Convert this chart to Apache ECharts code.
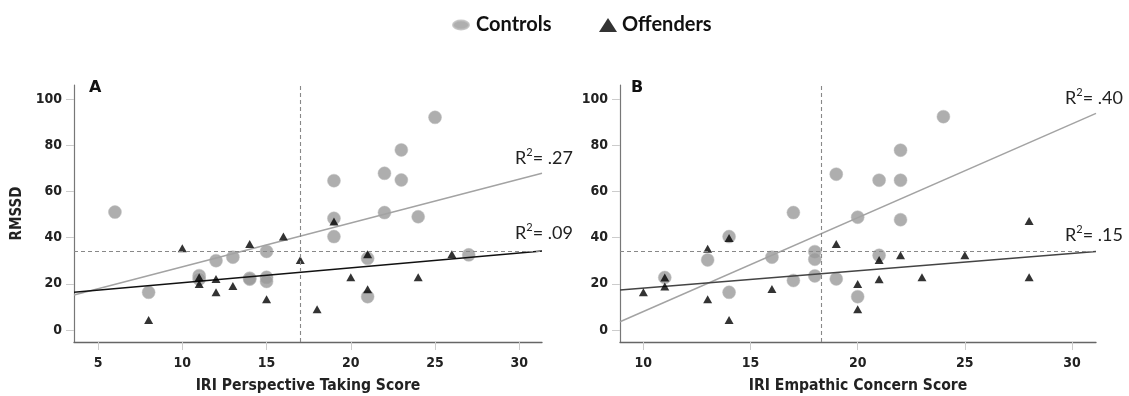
<!DOCTYPE html>
<html><head><meta charset="utf-8">
<script src="https://cdn.jsdelivr.net/npm/echarts@6/dist/echarts.min.js"></script>
<style>html,body{margin:0;padding:0;background:#fff}#c{width:1129px;height:396px}</style>
</head><body><div id="c"></div>
<script>
// Panel A: IRI Perspective Taking vs RMSSD
const controlsA = [[6,51],[8,16.3],[11,23.5],[11,22],[12,30],[13,31.5],[14,22.4],[14,22],[15,34],[15,22.8],[15,21],[19,64.6],[19,48.3],[19,40.4],[21,31],[21,14.4],[22,67.8],[22,50.8],[23,77.9],[23,64.9],[24,49],[25,92],[27,32.5]];
const offendersA = [[8,4.3],[10,35.4],[11,22.8],[11,19.9],[12,22.1],[12,16.3],[13,19],[14,37.2],[15,13.3],[16,40.4],[17,30.3],[18,9],[19,46.9],[20,22.8],[21,32.8],[21,17.6],[24,22.8],[26,32.8]];
// Panel B: IRI Empathic Concern vs RMSSD
const controlsB = [[11,22.7],[13,30.3],[14,40.4],[14,16.3],[16,31.5],[17,50.8],[17,21.4],[18,33.9],[18,30.6],[18,23.4],[19,67.4],[19,22.1],[20,48.8],[20,14.4],[21,64.8],[21,32.3],[22,77.8],[22,64.8],[22,47.7],[24,92.3]];
const offendersB = [[10,16.3],[11,22.7],[11,18.8],[13,35.1],[13,13.3],[14,39.8],[14,4.3],[16,17.7],[19,37.2],[20,19.9],[20,9],[21,30.3],[21,21.9],[22,32.3],[23,22.8],[25,32.3],[28,47.2],[28,22.8]];
// Fit lines [intercept, slope]
const fitControlsA = [8.4, 1.895];
const fitOffendersA = [14.0, 0.644];
const fitControlsB = [-32.6, 4.06];
const fitOffendersB = [10.6, 0.75];
const r2Labels = ['.27', '.09', '.40', '.15'];
// Reference (dashed) lines
const refY = [33.9, 33.9];
const refX = [17, 18.3];
// Axes
const xRangeA = [3.57, 31.35];
const xRangeB = [8.91, 31.12];
const yRange = [-5.2, 106];
const xTicksA = [5, 10, 15, 20, 25, 30];
const xTicksB = [10, 15, 20, 25, 30];
const yTicks = [0, 20, 40, 60, 80, 100];
const xNames = ['IRI Perspective Taking Score', 'IRI Empathic Concern Score'];
const yName = 'RMSSD';

const tickFont = "'DejaVu Sans Condensed', 'DejaVu Sans', sans-serif";
function fit(coef, range) {
  return range.map(x => [x, coef[0] + coef[1] * x]);
}
function xAxis(idx, range, ticks, name) {
  return {
    type: 'value', gridIndex: idx, min: range[0], max: range[1],
    axisLine: {show: true, onZero: false, lineStyle: {color: '#666', width: 1.3}},
    axisTick: {show: true, length: 8, lineStyle: {color: '#ccc', width: 1}, customValues: ticks},
    axisLabel: {customValues: ticks, margin: 14, fontFamily: tickFont, fontWeight: 'bold', fontSize: 14, color: '#222'},
    splitLine: {show: false},
    name: name, nameLocation: 'middle', nameGap: 36,
    nameTextStyle: {fontFamily: tickFont, fontWeight: 'bold', fontSize: 15.6, color: '#222'}
  };
}
function yAxis(idx, name) {
  return {
    type: 'value', gridIndex: idx, min: yRange[0], max: yRange[1],
    axisLine: {show: true, onZero: false, lineStyle: {color: '#777', width: 1.2}},
    axisTick: {show: true, length: 8, lineStyle: {color: '#ccc', width: 1}, customValues: yTicks},
    axisLabel: {customValues: yTicks, margin: 12, fontFamily: tickFont, fontWeight: 'bold', fontSize: 14, color: '#222'},
    splitLine: {show: false},
    name: name || '', nameLocation: 'middle', nameGap: 49, nameRotate: 90,
    nameTextStyle: {fontFamily: tickFont, fontWeight: 'bold', fontSize: 15, color: '#222'}
  };
}
const circleStyle = {color: '#9a9a9a', borderColor: '#bdbdbd', borderWidth: 0.6};
function circles(idx, data) {
  return {name: 'Controls', type: 'scatter', xAxisIndex: idx, yAxisIndex: idx, data: data,
    symbol: 'circle', symbolSize: 13, itemStyle: circleStyle, z: 2,
    markLine: {silent: true, symbol: 'none', label: {show: false},
      lineStyle: {color: '#888', type: [4, 3], width: 1.1},
      data: [{yAxis: refY[idx]}, {xAxis: refX[idx]}]}};
}
function triangles(idx, data) {
  return {name: 'Offenders', type: 'scatter', xAxisIndex: idx, yAxisIndex: idx, data: data,
    symbol: 'triangle', symbolSize: [9, 8], itemStyle: {color: '#000'}, z: 4};
}
function line(idx, data, color) {
  return {type: 'line', xAxisIndex: idx, yAxisIndex: idx, data: data, symbol: 'none', silent: true,
    lineStyle: {color: color, width: 1.5}, z: 3};
}
function r2(x, y, v) {
  return {type: 'text', x: x, y: y, silent: true, style: {
    text: '{r|R}{s|2}{r|= ' + v + '}', verticalAlign: 'middle',
    rich: {r: {fontFamily: 'Lato', fontSize: 18, fill: '#222', lineHeight: 22},
           s: {fontFamily: 'Lato', fontSize: 11, fill: '#222', verticalAlign: 'top', lineHeight: 22}}}};
}
const ellipse = 'path://M0,4.5A8,4.5 0 1 1 16,4.5A8,4.5 0 1 1 0,4.5Z';
const chart = echarts.init(document.getElementById('c'));
chart.setOption({
  animation: false,
  backgroundColor: '#fff',
  legend: [
    {data: [{name: 'Controls', icon: ellipse}], left: 447, top: 10, itemWidth: 16, itemHeight: 9,
     selectedMode: false, textStyle: {fontFamily: 'Lato', fontWeight: 'bold', fontSize: 20, color: '#111', padding: [0, 0, 0, 2]}},
    {data: [{name: 'Offenders', icon: 'triangle'}], left: 594, top: 10, itemWidth: 18, itemHeight: 14,
     selectedMode: false, textStyle: {fontFamily: 'Lato', fontWeight: 'bold', fontSize: 20, color: '#111', padding: [0, 0, 0, 0]}}
  ],
  grid: [
    {left: 74, top: 85, width: 468, height: 257, outerBoundsMode: 'none', containLabel: false},
    {left: 620, top: 85, width: 476, height: 257, outerBoundsMode: 'none', containLabel: false}
  ],
  xAxis: [xAxis(0, xRangeA, xTicksA, xNames[0]), xAxis(1, xRangeB, xTicksB, xNames[1])],
  yAxis: [yAxis(0, yName), yAxis(1)],
  series: [
    circles(0, controlsA), line(0, fit(fitControlsA, xRangeA), '#a3a3a3'),
    line(0, fit(fitOffendersA, xRangeA), '#111'), triangles(0, offendersA),
    circles(1, controlsB), line(1, fit(fitControlsB, xRangeB), '#a3a3a3'),
    line(1, fit(fitOffendersB, xRangeB), '#444'), triangles(1, offendersB)
  ],
  graphic: [
    {type: 'text', x: 89, y: 88, silent: true, style: {text: 'A', font: 'bold 16px "DejaVu Sans"', fill: '#111', verticalAlign: 'middle'}},
    {type: 'text', x: 631, y: 88, silent: true, style: {text: 'B', font: 'bold 16px "DejaVu Sans"', fill: '#111', verticalAlign: 'middle'}},
    r2(515, 158, r2Labels[0]), r2(515, 233, r2Labels[1]),
    r2(1065, 98, r2Labels[2]), r2(1065, 235, r2Labels[3])
  ]
});
</script></body></html>
